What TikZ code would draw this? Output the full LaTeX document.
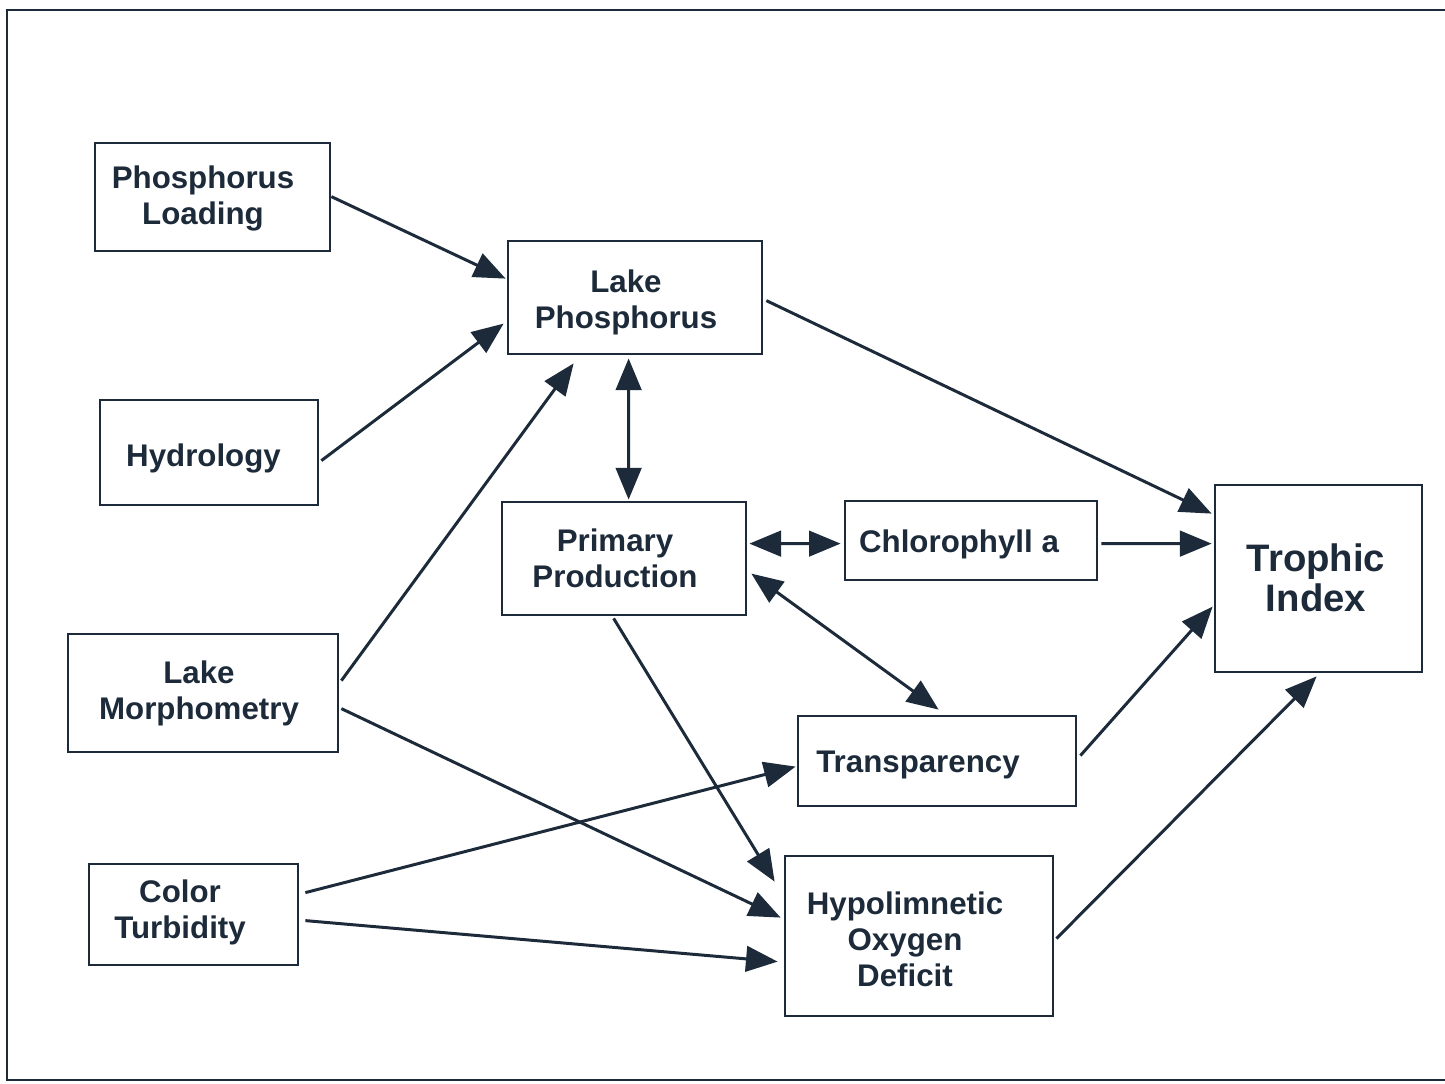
\documentclass[tikz,border=0pt]{standalone}
\usepackage{fontspec}
\setmainfont{Liberation Sans}
\usetikzlibrary{arrows.meta,calc}
\definecolor{ink}{HTML}{1C2A3A}
\begin{document}
\begin{tikzpicture}[x=0.02cm,y=-0.02cm,
  box/.style={draw=ink, line width=1.6pt, rectangle, inner sep=0pt},
  lbl/.style={text=ink, font=\fontsize{17.8}{20.4}\selectfont\bfseries, align=center, inner sep=0pt},
  big/.style={font=\fontsize{21.8}{22.7}\selectfont\bfseries},
  arr/.style={draw=ink, line width=1.7pt, -{Triangle[length=18pt,width=14.5pt]}},
  darr/.style={draw=ink, line width=1.7pt, {Triangle[length=18pt,width=14.5pt]}-{Triangle[length=18pt,width=14.5pt]}}
]
\useasboundingbox (0,0) rectangle (1445,1083);
% frame (right side open)
\draw[ink, line width=1.6pt] (1445,10) -- (7,10) -- (7,1080) -- (1445,1080);

% boxes
\node[box, minimum width=4.70cm, minimum height=2.16cm] (pl) at (212.5,197) {};
\node[box, minimum width=5.08cm, minimum height=2.26cm] (lp) at (635,297.5) {};
\node[box, minimum width=4.36cm, minimum height=2.10cm] (hy) at (209,452.5) {};
\node[box, minimum width=4.88cm, minimum height=2.26cm] (pp) at (624,558.5) {};
\node[box, minimum width=5.04cm, minimum height=1.58cm] (ch) at (971,540.5) {};
\node[box, minimum width=4.14cm, minimum height=3.74cm] (tr) at (1318.5,578.5) {};
\node[box, minimum width=5.40cm, minimum height=2.36cm] (mo) at (203,693) {};
\node[box, minimum width=5.56cm, minimum height=1.80cm] (tp) at (937,761) {};
\node[box, minimum width=4.18cm, minimum height=2.02cm] (ct) at (193.5,914.5) {};
\node[box, minimum width=5.36cm, minimum height=3.20cm] (hp) at (919,936) {};

% texts
\node[lbl] (plt) at (203,198.5) {Phosphorus\\Loading};
\node[lbl] (lpt) at (626,302) {Lake\\Phosphorus};
\node[lbl] (hyt) at (203.5,458) {Hydrology};
\node[lbl] (ppt) at (615,558.5) {Primary\\Production};
\node[lbl] (cht) at (959,544) {Chlorophyll a};
\node[lbl, big] (trt) at (1316,578) {Trophic\\Index};
\node[lbl] (mot) at (199,693) {Lake\\Morphometry};
\node[lbl] (tpt) at (918,765) {Transparency};
\node[lbl] (ctt) at (180,912.5) {Color\\Turbidity};
\node[lbl] (hpt) at (905,939) {Hypolimnetic\\Oxygen\\Deficit};

% connectors
\draw[arr] ($(pl.north east)+(0,55)$) -- ($(lp.north west)+(-1,39)$);
\draw[arr] ($(hy.north east)+(2,62)$) -- ($(lp.north west)+(-3,84)$);
\draw[arr] ($(mo.north east)+(2,48)$) -- ($(lp.south west)+(67,8)$);
\draw[arr] ($(lp.north east)+(3,61)$) -- ($(tr.north west)+(-2,30)$);
\draw[darr] ($(lp.south west)+(122,3)$) -- ($(pp.north west)+(128,-1)$);
\draw[darr] ($(pp.north east)+(2,43)$) -- ($(ch.north west)+(-3,44)$);
\draw[arr] ($(ch.north east)+(3,44)$) -- ($(tr.north west)+(-2,60)$);
\draw[darr] ($(pp.north east)+(4,73)$) -- ($(tp.north west)+(142,-5)$);
\draw[arr] ($(pp.south west)+(113,2)$) -- ($(hp.north west)+(-9,27)$);
\draw[arr] ($(mo.north east)+(2,76)$) -- ($(hp.north west)+(-3,63)$);
\draw[arr] ($(ct.north east)+(6,30)$) -- ($(tp.north west)+(-1,52)$);
\draw[arr] ($(ct.north east)+(6,58)$) -- ($(hp.north west)+(-6,107)$);
\draw[arr] ($(tp.north east)+(3,41)$) -- ($(tr.north west)+(-1,123)$);
\draw[arr] ($(hp.north east)+(2,84)$) -- ($(tr.south west)+(103,3)$);
\end{tikzpicture}
\end{document}
